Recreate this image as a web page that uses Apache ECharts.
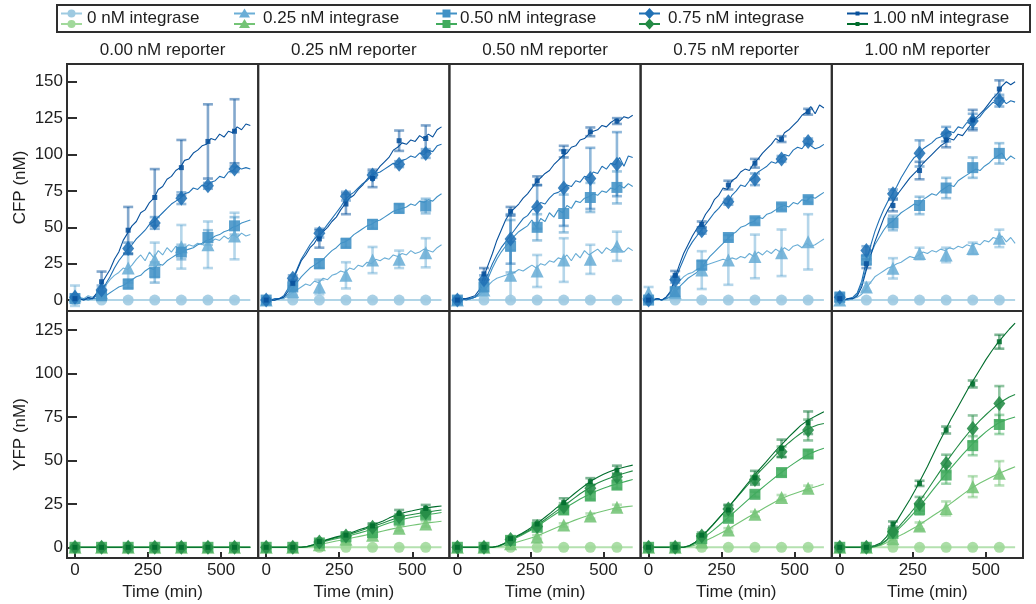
<!DOCTYPE html>
<html><head><meta charset="utf-8">
<script src="https://cdn.jsdelivr.net/npm/echarts@6/dist/echarts.min.js"></script>
<style>html,body{margin:0;padding:0;background:#fff}#chart{width:1036px;height:604px}</style>
</head><body><div id="chart"></div>
<script>
// ---------------- DATA ----------------
const panelTitles = ['0.00 nM reporter', '0.25 nM reporter', '0.50 nM reporter', '0.75 nM reporter', '1.00 nM reporter'];
const integraseLabels = ['0 nM integrase', '0.25 nM integrase', '0.50 nM integrase', '0.75 nM integrase', '1.00 nM integrase'];
const rowNames = ['CFP (nM)', 'YFP (nM)'];
const cfpTicks = [0, 25, 50, 75, 100, 125, 150];
const yfpTicks = [0, 25, 50, 75, 100, 125];
const timeTicks = [0, 250, 500];
const sampleTimes = [0, 91, 182, 273, 364, 455, 546];
const flatTimes = [0, 600];
const cfpTraceTimes = [0,15,30,45,60,75,90,105,120,135,150,165,180,195,210,225,240,255,270,285,300,315,330,345,360,375,390,405,420,435,450,465,480,495,510,525,540,555,570,585,600];
const yfpTraceTimes = [0,20,40,60,80,100,120,140,160,180,200,220,240,260,280,300,320,340,360,380,400,420,440,460,480,500,520,540,560,580,600];
const flat = [0, 0];
const Z7 = [0, 0, 0, 0, 0, 0, 0];
const E1 = [1, 1, 1, 1, 1, 1, 1];
const Eh = [0.5, 0.5, 0.5, 0.5, 0.5, 0.5, 0.5];

// CFP traces [panel][integrase]
const cfpTraces = [
  [flat,
   [0,2,1,3,2,4,6,10,14,17,19,22,21,24,28,31,27,33,29,34,31,36,33,37,35,36,38,37,39,38,41,40,42,41,44,42,45,43,46,44,45],
   [0,0,1,0,1,1,2,3,5,7,9,10,12,14,16,17,20,22,21,25,24,27,29,31,32,34,35,36,38,39,41,42,44,45,47,48,50,51,53,54,55],
   [0,1,0,1,1,3,7,11,16,22,27,31,35,38,42,45,48,52,54,57,60,63,66,68,70,73,74,77,76,79,78,81,82,85,84,88,89,92,90,91,90],
   [0,1,0,2,1,5,11,16,21,28,33,41,46,51,54,60,62,67,70,76,78,83,85,89,91,96,97,101,103,106,107,111,110,114,112,116,115,119,117,121,120]],
  [flat,
   [0,0,0,1,1,3,5,7,9,11,10,13,12,15,14,17,18,20,19,22,21,24,23,26,25,28,27,29,28,31,30,32,31,34,32,33,35,34,33,36,38],
   [0,0,0,1,2,4,8,12,16,19,22,24,26,28,31,34,36,39,40,42,45,47,49,51,52,54,55,57,59,61,62,63,64,66,65,68,67,69,68,71,73],
   [0,0,1,1,3,8,15,21,28,33,38,42,45,48,52,56,60,64,69,72,74,77,80,82,85,87,88,90,92,94,93,96,97,99,98,101,100,103,102,106,107],
   [0,0,0,1,2,6,13,20,27,31,36,39,44,47,50,54,57,62,66,70,72,76,79,83,86,88,92,95,98,103,105,108,107,110,109,113,111,114,112,117,119]],
  [flat,
   [0,0,1,1,2,3,6,10,13,15,16,17,18,19,21,20,22,24,22,25,24,27,26,29,28,31,27,32,29,34,31,33,35,32,36,34,37,35,33,36,34],
   [0,0,1,1,2,4,9,15,22,28,33,37,40,44,47,49,51,55,50,56,54,60,57,62,60,65,63,68,67,70,71,73,72,75,74,77,76,79,77,80,78],
   [0,1,0,1,2,5,12,18,25,31,36,40,44,48,52,56,58,62,64,67,66,70,73,74,76,79,78,82,81,85,84,88,87,92,90,94,93,98,92,99,98],
   [0,1,1,2,3,7,16,24,32,41,48,55,60,63,66,70,73,77,81,84,87,89,93,96,99,101,105,106,110,111,114,116,117,120,119,122,124,123,126,125,127]],
  [flat,
   [0,0,1,0,1,3,8,13,16,18,19,21,22,24,25,26,27,28,27,29,28,30,29,32,30,33,31,34,32,35,33,36,34,37,38,36,39,37,38,40,42],
   [0,0,1,0,1,2,5,9,12,15,17,19,22,26,30,33,36,39,42,45,47,50,51,53,54,57,56,59,60,62,64,65,64,67,66,69,68,71,70,72,74],
   [0,0,1,0,2,5,13,21,28,35,40,44,48,52,56,60,63,67,66,72,75,79,78,82,84,88,90,92,95,94,97,100,99,103,105,104,108,106,104,105,107],
   [0,0,1,0,2,6,15,24,32,38,44,49,53,59,63,69,72,77,76,82,84,88,90,89,94,97,101,104,107,111,109,115,117,120,123,127,129,133,128,134,132]],
  [flat,
   [0,0,0,1,2,4,8,12,16,18,20,22,23,25,26,28,30,29,31,33,32,34,33,35,34,36,35,37,36,38,37,39,38,41,40,43,42,44,40,43,39],
   [0,0,1,1,4,11,22,31,38,43,48,52,54,57,60,62,64,66,65,69,71,73,72,75,77,79,78,82,84,86,88,90,89,92,94,97,99,101,96,99,97],
   [0,0,1,2,5,13,26,37,47,55,62,68,73,78,84,89,94,98,100,104,106,108,111,112,114,116,115,119,118,122,121,124,126,130,133,136,134,138,135,137,136],
   [0,0,1,1,3,9,20,30,40,48,56,62,67,72,76,80,84,87,90,94,97,100,103,106,108,111,110,114,113,117,121,125,128,131,135,139,142,147,150,148,150]]
];

// YFP traces [panel][integrase]
const yfpTraces = [
  [flat, flat, flat, flat, flat],
  [flat,
   [0,0,0,0,0,0,0,0.2,0.7,1.5,2.2,2.9,3.6,4.2,4.9,5.6,6.3,7,7.8,8.6,9.4,10.2,10.9,11.5,12.1,12.7,13.2,13.7,14.2,14.6,15],
   [0,0,0,0,0,0,0,0.3,1.1,2.4,3.3,4.2,5,5.7,6.5,7.4,8.3,9.3,10.4,11.6,12.8,14,15,15.8,16.6,17.3,17.9,18.5,19,19.5,20],
   [0,0,0,0,0,0,0,0.4,1.3,2.8,3.8,4.7,5.6,6.3,7.2,8.3,9.4,10.5,11.7,12.8,14,15.3,16.5,17.6,18.3,18.9,19.5,20,20.5,21,21.5],
   [0,0,0,0,0,0,0,0.5,1.5,3,4,5,6,6.8,7.8,9,10.2,11.2,12.5,13.8,15.2,16.8,18.3,19.5,20.3,21,21.8,22.4,23,23.4,23.8]],
  [flat,
   [0,0,0,0,0,0,0,0.3,0.9,1.9,2.8,3.8,4.8,5.8,7.1,8.5,10,11.4,12.9,14.2,15.5,16.7,17.9,19,20,20.9,21.8,22.6,23,23.4,23.8],
   [0,0,0,0,0,0,0,0.6,1.8,3.8,5.3,7,8.8,10.6,12.8,15.1,17.4,19.6,21.8,23.8,25.8,27.8,29.5,31.2,32.7,34,35.2,36.2,37.2,38.1,39],
   [0,0,0,0,0,0,0,0.7,2,4.2,5.8,7.5,9.3,11.3,13.6,16,18.5,21,23.5,25.8,28.3,30.8,33,35.2,37,38.5,39.8,40.9,42,43,44],
   [0,0,0,0,0,0,0,0.8,2.2,4.5,6.2,8,10,12.2,14.6,17.3,20,22.8,25.3,28,30.8,33.5,36,38.5,40.3,42,43.5,44.7,45.6,46.5,47.3]],
  [flat,
   [0,0,0,0,0,0,0,0.4,1.3,2.8,4.2,5.8,7.5,9.3,11.3,13.3,15.3,17.3,19.2,21.1,23,24.9,26.8,28.4,29.8,31,32.1,33.2,34.3,35.3,36.4],
   [0,0,0,0,0,0,0,0.7,2.2,4.6,7,9.6,12.4,15.3,18.3,21.3,24.3,27.3,30.3,33,35.8,38.5,41.2,43.8,46.3,48.6,50.8,52.8,54.5,55.8,57],
   [0,0,0,0,0,0,0,0.9,2.8,6,9.2,12.8,16.6,20.4,24.4,28.3,32.2,36,39.8,43.5,47,50.5,54,57.2,60.2,63,65.5,67.7,69.3,70.5,71.3],
   [0,0,0,0,0,0,0,1,3,6.3,9.5,13,16.8,20.5,24.5,28.6,32.8,37,41,45,48.8,52.7,56.5,60,63.5,66.8,70,72.5,74.5,76.3,78]],
  [flat,
   [0,0,0,0,0,0,0.3,1.1,2.6,4.7,6.3,8,9.8,11.7,13.8,16,18.3,20.5,22.8,25.3,27.8,30.3,32.8,35,37,38.8,40.5,42,43.6,45,46.4],
   [0,0,0,0,0,0,0.4,1.6,3.8,7.3,10.3,13.6,17.2,21,25,29,33.3,37.5,41.6,45.6,49.5,53.3,57,60.5,63.5,66.4,69,71.2,72.8,74,75],
   [0,0,0,0,0,0,0.5,1.8,4.2,8,11.5,15.3,19.3,23.5,28.2,33,38,43,48,52.8,57.3,61.7,65.8,69.5,73,76.3,79.4,82.2,84.5,86.5,88],
   [0,0,0,0,0,0.3,1,2.5,6,11.5,16.5,22,27.5,33.5,40,46.5,53.5,60.5,67,73.5,79.5,85.5,91.5,97,102.5,108,113,117.5,121.5,125.5,129]]
];

// Marker means and error half-widths at sampleTimes [panel][integrase]
const cfpMeans = [
  [Z7, [3,5,22,27.5,36.6,38,44], [1,3,11,19,33,43,51], [2,7,35.5,53,70,78.5,90], [1,12.6,48,70.5,91,109,116]],
  [Z7, [0,5.7,9,17,27.5,28,32.5], [0,9,25,39,52,63,64.6], [0,15,46,71.4,86,93.4,100.7], [0,11.5,42,66,83.6,109.5,111]],
  [Z7, [0,7,17,20,27.5,28,37], [0,9,37,50,59.5,70.5,77.4], [0,14,42,64,77,83.6,93.4], [0,18,61,82,102,115.6,123]],
  [Z7, [5,5,20.6,27.5,30,32.5,40], [0,5.7,24,43,54.5,64,69], [0,14,47.6,67.5,83,97,109], [0,17,52,79,94,110.6,129.4]],
  [Z7, [0,9,21.8,32,31,35.5,42.4], [2,27.5,53,65,77,91,100.8], [2,34,73,100.8,114,123,137], [1,25,65,89,110,123.7,145]]
];
const cfpErrs = [
  [E1, [7,3,10,12,15,16,16], [2,2,3,7,5,5,6], [2,3,4,4,4,2,2], [1,7,16,19.5,19,25.5,22]],
  [E1, [1,2,5,9,9,6,10], [1,2,3,3,3,3,5], [1,2,3,3,2,2,3], [1,2,6,7,6,7,9]],
  [E1, [1,3,17,11,15,10,10], [1,3,18,9,13,10,11], [1,3,17,15,26,21,22], [2,4,3,3,4,3,2]],
  [E1, [4,3,13,17,15,16,19], [1,3,3,2,2,2,2], [1,2,2,2,4,2,2], [1,3,2,3,3,2,2]],
  [E1, [1,3,7,4,5,4,6], [3,3,5,6,7,7,7], [2,3,3,9,5,5,4], [2,3,4,6,5,7,6]]
];
const yfpMeans = [
  [Z7, Z7, Z7, Z7, Z7],
  [Z7, [0,0,1.5,4.6,7,11,13.4], [0,0,2.5,6,8.4,15.7,18.6], [0,0,3,6.5,11.5,17.6,20], [0,0,3.3,7,12.3,19.5,22.4]],
  [Z7, [0,0,2,6,12.8,18,23], [0,0,4,11.5,21.5,29.5,35.8], [0,0,4.5,12,23.4,34,40.6], [0,0,5,13.4,25.7,37.8,44.5]],
  [Z7, [0,0,3,10,19,28.6,34], [0,0,5,16.7,30.5,43,53.7], [0,0,6.5,22,39,55,67.5], [0,0,7,21.5,40,57,71.7]],
  [Z7, [0,0,5,12.3,22.4,34.9,42.6], [0,0,8,21.8,41.6,58.5,70.7], [0,0,9,25,48.3,68.4,82.8], [0,0,13.4,36.8,67.5,94,118.3]]
];
const yfpErrs = [
  [Eh, Eh, Eh, Eh, Eh],
  [Eh, [.5,.5,1,1,1,1.5,1.5], [.5,.5,1,1,1.5,1.5,1.5], [.5,.5,1,1,1.5,1.5,2], [.5,.5,1,1.5,1.5,2,2]],
  [Eh, [.5,.5,1,1,1,1.5,1.5], [.5,.5,1,1.5,2,2,2], [.5,.5,1,1.5,2,2,2], [.5,.5,1,2,2.5,2,2.5]],
  [Eh, [.5,.5,1,1,1.5,1.5,1.5], [.5,.5,1,1.5,1.5,2,2], [.5,.5,1,2,2,3,6], [.5,.5,1.5,3,4,5,6.5]],
  [Eh, [.5,.5,1,2,4,6,7], [.5,.5,1.5,3,5,5.5,5.5], [.5,.5,2,4,5,7.5,10], [.5,.5,1.5,1.5,2,2,4]]
];

// ---------------- STYLE ----------------
const FONT = '"Liberation Sans", Arial, Helvetica, sans-serif';
const TXT = '#1e1e1e';
const FRAME = '#2e2e2e';
const blues = ['#9ecae1', '#6baed6', '#4292c6', '#2171b5', '#08519c'];
const greens = ['#a1d99b', '#74c476', '#41ab5d', '#238b45', '#006d2c'];
const symbols = ['circle', 'triangle', 'rect', 'diamond', 'rect'];
const symbolSizes = [11, 13, 11, [12, 15], 5];
const GRID_LEFT = 67, GRID_W = 191.2, ROW_TOP = [64, 311], ROW_H = 247;
const Y_RANGE = [[-7.5, 162.2], [-6.15, 136]];
const X_RANGE = [-27.3, 627];

function rgba(hex, a) {
  const n = parseInt(hex.slice(1), 16);
  return 'rgba(' + ((n >> 16) & 255) + ',' + ((n >> 8) & 255) + ',' + (n & 255) + ',' + a + ')';
}

const grids = [], xAxes = [], yAxes = [], series = [];
for (let r = 0; r < 2; r++) {
  for (let c = 0; c < 5; c++) {
    const g = r * 5 + c;
    grids.push({left: GRID_LEFT + c * GRID_W, top: ROW_TOP[r], width: GRID_W, height: ROW_H,
      show: true, borderColor: FRAME, borderWidth: 2, backgroundColor: 'transparent'});
    xAxes.push({gridIndex: g, type: 'value', min: X_RANGE[0], max: X_RANGE[1], position: 'bottom',
      axisLine: {show: false, onZero: false}, splitLine: {show: false},
      axisTick: {show: r === 1, inside: true, length: 6, lineStyle: {width: 2, color: FRAME}, customValues: timeTicks},
      axisLabel: {show: r === 1, customValues: timeTicks, fontSize: 17, fontFamily: FONT, color: TXT, margin: 4},
      name: r === 1 ? 'Time (min)' : '', nameLocation: 'middle', nameGap: 26,
      nameTextStyle: {fontSize: 17, fontFamily: FONT, color: TXT}});
    const ticks = r === 0 ? cfpTicks : yfpTicks;
    yAxes.push({gridIndex: g, type: 'value', min: Y_RANGE[r][0], max: Y_RANGE[r][1], position: 'left',
      axisLine: {show: false, onZero: false}, splitLine: {show: false},
      axisTick: {show: c === 0, inside: true, length: 10, lineStyle: {width: 2, color: FRAME}, customValues: ticks},
      axisLabel: {show: c === 0, customValues: ticks, fontSize: 17, fontFamily: FONT, color: TXT, margin: 4},
      name: c === 0 ? rowNames[r] : '', nameLocation: 'middle', nameGap: 38,
      nameTextStyle: {fontSize: 17, fontFamily: FONT, color: TXT}});

    const palette = r === 0 ? blues : greens;
    const traces = r === 0 ? cfpTraces[c] : yfpTraces[c];
    const tTimes = r === 0 ? cfpTraceTimes : yfpTraceTimes;
    const means = r === 0 ? cfpMeans[c] : yfpMeans[c];
    const errs = r === 0 ? cfpErrs[c] : yfpErrs[c];

    for (let i = 0; i < 5; i++) {
      const tt = traces[i].length === 2 ? flatTimes : tTimes;
      series.push({type: 'line', xAxisIndex: g, yAxisIndex: g, silent: true, animation: false,
        showSymbol: false, symbol: 'none', clip: true,
        lineStyle: {width: i === 0 ? 2 : 1.1, color: palette[i], opacity: i === 0 ? 0.8 : 1},
        data: traces[i].map((v, j) => [tt[j], v]), z: 2});
    }
    for (let i = 0; i < 5; i++) {
      const col = rgba(palette[i], 0.5);
      series.push({type: 'custom', xAxisIndex: g, yAxisIndex: g, silent: true, animation: false, clip: true,
        encode: {x: 0, y: 1},
        data: sampleTimes.map((t, j) => [t, means[i][j], errs[i][j]]),
        renderItem: function (params, api) {
          const t = api.value(0), m = api.value(1), e = api.value(2);
          const p1 = api.coord([t, m + e]), p2 = api.coord([t, m - e]);
          const hw = 5, st = {stroke: col, lineWidth: 2.6};
          return {type: 'group', children: [
            {type: 'line', shape: {x1: p1[0], y1: p1[1], x2: p2[0], y2: p2[1]}, style: st},
            {type: 'line', shape: {x1: p1[0] - hw, y1: p1[1], x2: p1[0] + hw, y2: p1[1]}, style: st},
            {type: 'line', shape: {x1: p2[0] - hw, y1: p2[1], x2: p2[0] + hw, y2: p2[1]}, style: st}
          ]};
        }, z: 3});
    }
    for (let i = 0; i < 5; i++) {
      series.push({type: 'scatter', xAxisIndex: g, yAxisIndex: g, silent: true, animation: false,
        symbol: symbols[i], symbolSize: symbolSizes[i],
        itemStyle: {color: palette[i], opacity: 0.88},
        data: sampleTimes.map((t, j) => [t, means[i][j]]), z: 4});
    }
  }
}

// ---------------- LEGEND + TITLES (graphic) ----------------
function marker(k, cx, cy, color) {
  const st = {fill: color};
  if (k === 0) return {type: 'circle', shape: {cx: cx, cy: cy, r: 4}, style: st};
  if (k === 1) return {type: 'polygon', shape: {points: [[cx, cy - 5], [cx + 5.5, cy + 4], [cx - 5.5, cy + 4]]}, style: st};
  if (k === 2) return {type: 'rect', shape: {x: cx - 4, y: cy - 4, width: 8, height: 8}, style: st};
  if (k === 3) return {type: 'polygon', shape: {points: [[cx, cy - 5.5], [cx + 5, cy], [cx, cy + 5.5], [cx - 5, cy]]}, style: st};
  return {type: 'rect', shape: {x: cx - 2, y: cy - 2, width: 4, height: 4}, style: st};
}
const legendIconX = [61, 234, 436, 639, 847];
const legendTextX = [87, 263, 460, 668, 873];
const graphics = [{type: 'rect', shape: {x: 57, y: 5, width: 973, height: 27},
  style: {fill: '#fff', stroke: FRAME, lineWidth: 2}, z: 10}];
for (let k = 0; k < 5; k++) {
  const x0 = legendIconX[k], cx = x0 + 10.5;
  graphics.push({type: 'line', shape: {x1: x0, y1: 13.5, x2: x0 + 21, y2: 13.5}, style: {stroke: blues[k], lineWidth: 2}, z: 11});
  graphics.push({type: 'line', shape: {x1: x0, y1: 24, x2: x0 + 21, y2: 24}, style: {stroke: greens[k], lineWidth: 2}, z: 11});
  const mb = marker(k, cx, 13.5, blues[k]); mb.z = 12; graphics.push(mb);
  const mg = marker(k, cx, 24, greens[k]); mg.z = 12; graphics.push(mg);
  graphics.push({type: 'text', x: legendTextX[k], y: 18.5, z: 12,
    style: {text: integraseLabels[k], font: '17px ' + FONT, fill: TXT, textAlign: 'left', textVerticalAlign: 'middle'}});
}
for (let c = 0; c < 5; c++) {
  graphics.push({type: 'text', x: GRID_LEFT + c * GRID_W + GRID_W / 2, y: 50, z: 12,
    style: {text: panelTitles[c], font: '17px ' + FONT, fill: TXT, textAlign: 'center', textVerticalAlign: 'middle'}});
}

const chart = echarts.init(document.getElementById('chart'), null, {renderer: 'canvas'});
chart.setOption({
  backgroundColor: '#ffffff',
  animation: false,
  grid: grids, xAxis: xAxes, yAxis: yAxes, series: series,
  graphic: {elements: graphics}
});
</script>
</body></html>
